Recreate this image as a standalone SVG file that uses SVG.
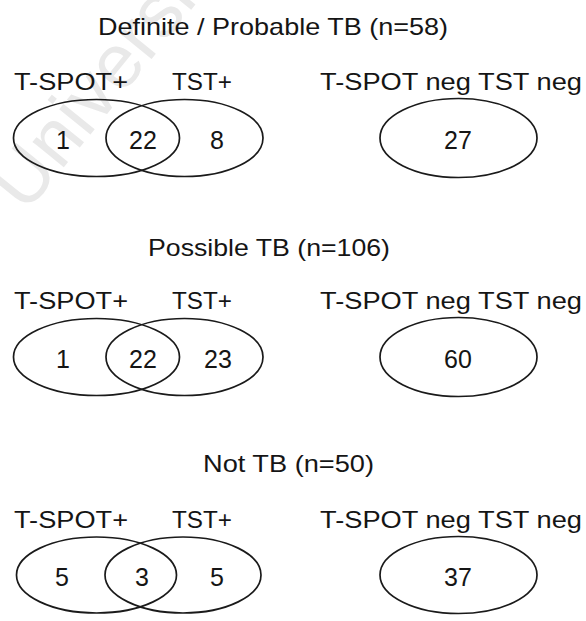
<svg xmlns="http://www.w3.org/2000/svg" width="586" height="621" viewBox="0 0 586 621">
<style>
text{font-family:"Liberation Sans",Arial,sans-serif;font-size:24px;fill:#151515}
.t{text-anchor:start}
.n{text-anchor:middle;font-size:25px}
.e{fill:none;stroke:#1a1a1a;stroke-width:1.7}
.wm{font-size:76px;fill:#e9e9e9}
</style>
<rect width="586" height="621" fill="#fff"/>
<text class="wm" transform="translate(26,214) rotate(-51)">University</text>
<g id="definite">
  <text class="t" x="98" y="35" textLength="350" lengthAdjust="spacingAndGlyphs">Definite / Probable TB (n=58)</text>
  <g id="definite-venn">
    <text class="t" x="14" y="90" textLength="114" lengthAdjust="spacingAndGlyphs">T-SPOT+</text>
    <text class="t" x="172" y="90" textLength="60" lengthAdjust="spacingAndGlyphs">TST+</text>
    <ellipse class="e" cx="96.5" cy="138" rx="83" ry="38.5"/>
    <ellipse class="e" cx="184.5" cy="138" rx="78.5" ry="38.5"/>
    <text class="n" x="63" y="149">1</text>
    <text class="n" x="143" y="149">22</text>
    <text class="n" x="217" y="149">8</text>
  </g>
  <g id="definite-neg">
    <text class="t" x="320" y="90" textLength="262" lengthAdjust="spacingAndGlyphs">T-SPOT neg TST neg</text>
    <ellipse class="e" cx="458.5" cy="138" rx="78.5" ry="39.5"/>
    <text class="n" x="458" y="149">27</text>
  </g>
</g>
<g id="possible" transform="translate(0,219)">
  <text class="t" x="148" y="37" textLength="242" lengthAdjust="spacingAndGlyphs">Possible TB (n=106)</text>
  <g id="possible-venn">
    <text class="t" x="14" y="90" textLength="114" lengthAdjust="spacingAndGlyphs">T-SPOT+</text>
    <text class="t" x="172" y="90" textLength="60" lengthAdjust="spacingAndGlyphs">TST+</text>
    <ellipse class="e" cx="96.5" cy="138" rx="83" ry="38.5"/>
    <ellipse class="e" cx="184.5" cy="138" rx="78.5" ry="38.5"/>
    <text class="n" x="63" y="149">1</text>
    <text class="n" x="143" y="149">22</text>
    <text class="n" x="218" y="149">23</text>
  </g>
  <g id="possible-neg">
    <text class="t" x="320" y="90" textLength="262" lengthAdjust="spacingAndGlyphs">T-SPOT neg TST neg</text>
    <ellipse class="e" cx="458.5" cy="138" rx="78.5" ry="39.5"/>
    <text class="n" x="458" y="149">60</text>
  </g>
</g>
<g id="nottb" transform="translate(0,437)">
  <text class="t" x="203" y="35" textLength="171" lengthAdjust="spacingAndGlyphs">Not TB (n=50)</text>
  <g id="nottb-venn">
    <text class="t" x="14" y="91" textLength="114" lengthAdjust="spacingAndGlyphs">T-SPOT+</text>
    <text class="t" x="172" y="91" textLength="60" lengthAdjust="spacingAndGlyphs">TST+</text>
    <ellipse class="e" cx="96.5" cy="138" rx="80" ry="38"/>
    <ellipse class="e" cx="183" cy="138" rx="78" ry="38"/>
    <text class="n" x="62" y="149">5</text>
    <text class="n" x="142" y="149">3</text>
    <text class="n" x="217" y="149">5</text>
  </g>
  <g id="nottb-neg">
    <text class="t" x="320" y="91" textLength="262" lengthAdjust="spacingAndGlyphs">T-SPOT neg TST neg</text>
    <ellipse class="e" cx="458.5" cy="138" rx="78.5" ry="38.5"/>
    <text class="n" x="458" y="149">37</text>
  </g>
</g>
</svg>
